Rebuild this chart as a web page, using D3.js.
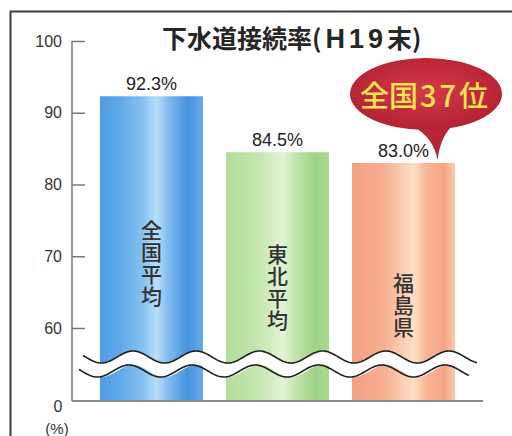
<!DOCTYPE html>
<html>
<head>
<meta charset="utf-8">
<script src="https://cdn.jsdelivr.net/npm/d3@7/dist/d3.min.js"></script>
<style>
  html, body { margin: 0; padding: 0; background: #fff; }
  svg { display: block; }
</style>
</head>
<body>
<svg id="chart" width="512" height="436"></svg>
<script>
// ---- data ----
const categories = ["全国平均", "東北平均", "福島県"];
const values = [92.3, 84.5, 83.0];
const valueLabels = ["92.3%", "84.5%", "83.0%"];
const tickValues = [60, 70, 80, 90, 100];
const tickLabels = ["60", "70", "80", "90", "100"];
const titleText = ["下水道接続率(", "H19", "末)"];
const calloutText = ["全国", "37", "位"];
const unitLabel = "(%)";
const zeroLabel = "0";

// ---- layout ----
const svg = d3.select("#chart");
const axisX = 72, baseY = 401, rightX = 483;

const x = d3.scaleBand().domain(categories)
  .range([axisX, rightX]).paddingInner(0.1825).paddingOuter(0.222);
// broken axis: 0 at the baseline, 60..100 linear above the break
const y = d3.scaleLinear().domain([0, 60, 100]).range([baseY, 328, 41]);

const defs = svg.append("defs");
const grads = [
  [[0, "#4f9de4"], [0.18, "#5ea8e9"], [0.42, "#86c2f1"], [0.55, "#b9dffa"], [0.66, "#80bcef"], [0.85, "#4793de"], [1, "#66aaea"]],
  [[0, "#b2de9a"], [0.3, "#c3e6ad"], [0.55, "#e2f4d5"], [0.68, "#c2e5ab"], [0.86, "#9fd487"], [1, "#a9d992"]],
  [[0, "#f4a083"], [0.3, "#f6ae90"], [0.6, "#fde0c5"], [0.72, "#f7b596"], [0.9, "#f5a586"], [1, "#f9cdb0"]]
];
grads.forEach((stops, i) => {
  const g = defs.append("linearGradient").attr("id", "g" + i)
    .attr("x1", "0%").attr("x2", "100%").attr("y1", "0%").attr("y2", "0%");
  stops.forEach(s => g.append("stop").attr("offset", s[0]).attr("stop-color", s[1]));
});
const rg = defs.append("radialGradient").attr("id", "callout")
  .attr("cx", "50%").attr("cy", "45%").attr("r", "60%");
rg.append("stop").attr("offset", 0).attr("stop-color", "#d43b49");
rg.append("stop").attr("offset", 1).attr("stop-color", "#b11f30");

// frame
svg.append("path").attr("d", "M10.5,436 V11.5 H512")
  .attr("fill", "none").attr("stroke", "#3d3d3d").attr("stroke-width", 2);

// bars
svg.selectAll("rect.bar").data(values).join("rect").attr("class", "bar")
  .attr("x", (d, i) => x(categories[i]))
  .attr("width", x.bandwidth())
  .attr("y", d => y(d))
  .attr("height", d => baseY - y(d))
  .attr("fill", (d, i) => `url(#g${i})`);

// value labels
svg.selectAll("text.val").data(values).join("text").attr("class", "val")
  .attr("x", (d, i) => x(categories[i]) + x.bandwidth() / 2)
  .attr("y", d => y(d) - 6)
  .attr("text-anchor", "middle")
  .attr("font-family", "Liberation Sans, Arial, sans-serif")
  .attr("font-size", 18)
  .attr("fill", "#222")
  .text((d, i) => valueLabels[i]);

// vertical category labels inside bars
const labelTop = [220, 244, 273];
svg.selectAll("text.cat").data(categories).join("text").attr("class", "cat")
  .attr("x", d => x(d) + x.bandwidth() / 2)
  .attr("y", (d, i) => labelTop[i])
  .attr("font-family", "Noto Sans CJK JP, sans-serif")
  .attr("font-size", 21)
  .attr("font-weight", 500)
  .attr("fill", "#333")
  .attr("text-anchor", "start")
  .attr("letter-spacing", 1)
  .style("writing-mode", "vertical-rl")
  .text(d => d);

// wave break
const waveMid = 357, amp = 6, period = 63.2, phase = 133, gap = 14;
const wx = d3.range(83, 477.5, 1);
const wave = xx => waveMid - amp * Math.cos(2 * Math.PI * (xx - phase) / period);
svg.append("path")
  .attr("d", d3.area().x(d => d).y0(d => wave(d) + gap).y1(d => wave(d))(wx))
  .attr("fill", "#fff");
svg.append("path")
  .attr("d", d3.line().x(d => d).y(d => wave(d))(wx))
  .attr("fill", "none").attr("stroke", "#1e1e1e").attr("stroke-width", 1.6);
svg.append("path")
  .attr("d", d3.line().x(d => d - 4).y(d => wave(d) + gap)(d3.range(83, 474, 1)))
  .attr("fill", "none").attr("stroke", "#1e1e1e").attr("stroke-width", 1.6);

// axis line + baseline
svg.append("line").attr("x1", axisX).attr("x2", axisX)
  .attr("y1", y(100)).attr("y2", baseY)
  .attr("stroke", "#777").attr("stroke-width", 1.5);
svg.append("line").attr("x1", axisX).attr("x2", rightX)
  .attr("y1", baseY).attr("y2", baseY)
  .attr("stroke", "#8a8a8a").attr("stroke-width", 2);

// ticks
const axisG = svg.append("g").attr("transform", `translate(${axisX},0)`)
  .call(d3.axisRight(y).tickValues(tickValues).tickSize(13).tickFormat(""));
axisG.select(".domain").remove();
axisG.selectAll(".tick line").attr("stroke", "#777").attr("stroke-width", 1.5);

svg.selectAll("text.tick").data(tickValues).join("text").attr("class", "tick")
  .attr("x", 62).attr("y", d => y(d))
  .attr("text-anchor", "end").attr("dominant-baseline", "central")
  .attr("font-family", "Liberation Sans, Arial, sans-serif")
  .attr("font-size", 16).attr("fill", "#333")
  .text((d, i) => tickLabels[i]);
svg.append("text").attr("x", 58).attr("y", y(0) + 5)
  .attr("text-anchor", "middle").attr("dominant-baseline", "central")
  .attr("font-family", "Liberation Sans, Arial, sans-serif")
  .attr("font-size", 16).attr("fill", "#333").text(zeroLabel);
svg.append("text").attr("x", 57).attr("y", 428)
  .attr("text-anchor", "middle").attr("dominant-baseline", "central")
  .attr("font-family", "Liberation Sans, Arial, sans-serif")
  .attr("font-size", 15).attr("fill", "#333").text(unitLabel);

// title
const title = svg.append("text").attr("x", 162).attr("y", 48)
  .attr("font-family", "Noto Sans CJK JP, sans-serif")
  .attr("font-size", 25).attr("font-weight", 700).attr("fill", "#262626");
title.append("tspan").text(titleText[0]);
title.append("tspan").attr("dx", 4)
  .attr("font-family", "Liberation Sans, Arial, sans-serif")
  .attr("font-size", 27).attr("letter-spacing", 4).text(titleText[1]);
title.append("tspan").text(titleText[2]);

// callout
const tipX = x(categories[2]) + x.bandwidth() * 0.83, tipY = y(values[2]) - 3;
const cx = 426, cy = 94;
svg.append("path")
  .attr("d", `M${cx - 12},${cy + 33} Q${tipX - 4},${tipY - 22} ${tipX},${tipY} Q${tipX + 3},${tipY - 24} ${cx + 28},${cy + 30} Z`)
  .attr("fill", "#b82536");
svg.append("ellipse").attr("cx", cx).attr("cy", cy).attr("rx", 76).attr("ry", 36)
  .attr("fill", "url(#callout)");
const ct = svg.append("text").attr("x", 360).attr("y", 107)
  .attr("font-family", "Noto Sans CJK JP, sans-serif")
  .attr("font-size", 29).attr("font-weight", 500).attr("fill", "#f8e452");
ct.append("tspan").text(calloutText[0]);
ct.append("tspan").attr("letter-spacing", 3).attr("dx", 2).text(calloutText[1]);
ct.append("tspan").text(calloutText[2]);
</script>
</body>
</html>
